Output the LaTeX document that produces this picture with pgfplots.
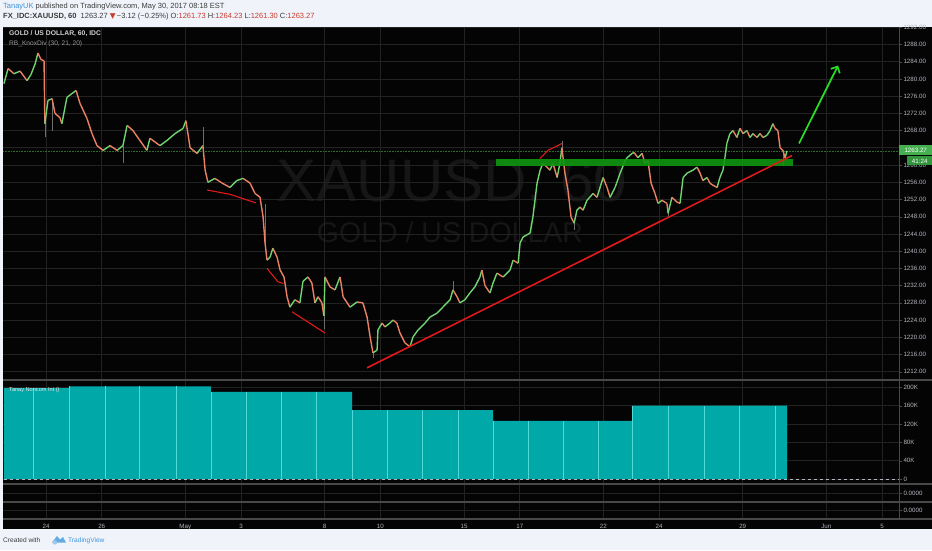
\documentclass[border=0pt]{standalone}
\usepackage{fontspec}
\setmainfont{Liberation Sans}
\newfontfamily\symfont{DejaVu Sans}
\usepackage{pgfplots}
\pgfplotsset{compat=1.18}
\usetikzlibrary{arrows.meta}

\definecolor{pagebg}{RGB}{240,243,250}
\definecolor{chartbg}{RGB}{4,4,4}
\definecolor{gridc}{RGB}{34,34,34}
\definecolor{sepc}{RGB}{72,72,72}
\definecolor{tickc}{RGB}{178,181,190}
\definecolor{teal1}{RGB}{0,168,168}
\definecolor{teal2}{RGB}{80,215,215}
\definecolor{bandc}{RGB}{16,150,16}
\definecolor{trendc}{RGB}{225,25,25}
\definecolor{arrowc}{RGB}{40,220,40}
\definecolor{boxc}{RGB}{70,175,80}
\definecolor{box2c}{RGB}{50,150,60}
\definecolor{wmc}{RGB}{22,22,22}
\definecolor{tvblue}{RGB}{60,150,220}
\definecolor{hdtext}{RGB}{60,60,60}
\definecolor{valred}{RGB}{200,60,50}
\definecolor{lastc}{RGB}{40,110,40}
\definecolor{wickc}{RGB}{110,110,110}

\pgfplotsset{
  tvpanel/.style={
    scale only axis, width=896pt, anchor=south west,
    xmin=-1.543, xmax=30.607,
    axis line style={draw=none},
    xtick={0,2,5,7,10,12,15,17,20,22,25,28,30},
    xticklabels={},
    xmajorgrids, ymajorgrids,
    grid style={gridc, line width=0.6pt},
    ytick pos=right, yticklabel pos=right,
    tick align=outside, major tick length=3pt,
    xtick style={draw=none}, ytick style={draw=sepc},
    tick label style={font=\fontsize{6.2}{7}\selectfont, color=tickc},
    yticklabel style={xshift=-2pt},
    scaled y ticks=false,
    /pgf/number format/assume math mode=true,
  }
}

\begin{document}
\begin{tikzpicture}[x=1pt,y=1pt]
% page and chart background
\fill[pagebg] (0,0) rectangle (932,550);
\fill[chartbg] (3,21) rectangle (932,523);

% header
\node[anchor=base west, inner sep=0, font=\fontsize{7.5}{8}\selectfont] at (3,541)
  {{\color{tvblue}TanayUK} {\color{hdtext}published on TradingView.com, May 30, 2017 08:18 EST}};
\node[anchor=base west, inner sep=0, font=\fontsize{7.5}{8}\selectfont, text=hdtext] at (3,531.5)
  {\textbf{FX\_IDC:XAUUSD, 60}\ \ 1263.27 {\color{valred}\symfont ▼}\,−3.12 (−0.25\%) O:{\color{valred}1261.73} H:{\color{valred}1264.23} L:{\color{valred}1261.30} C:{\color{valred}1263.27}};

% watermark
\node[text=wmc, font=\fontsize{60}{62}\selectfont] at (452,366) {XAUUSD, 60};
\node[text=wmc, font=\fontsize{28.5}{30}\selectfont] at (450,318) {GOLD / US DOLLAR};

% main price panel
\begin{axis}[tvpanel, at={(3pt,171pt)}, height=352pt,
  ymin=1210.31, ymax=1292.05,
  ytick={1212,1216,1220,1224,1228,1232,1236,1240,1244,1248,1252,1256,1260,1264,1268,1272,1276,1280,1284,1288,1292},
  yticklabels={1212.00,1216.00,1220.00,1224.00,1228.00,1232.00,1236.00,1240.00,1244.00,1248.00,1252.00,1256.00,1260.00,,1268.00,1272.00,1276.00,1280.00,1284.00,1288.00,1292.00},
]
\addplot[densely dotted, lastc, line width=0.6pt] coordinates {(-1.543,1263.27) (30.607,1263.27)};
% wicks of a few hourly bars (low to high)
\addplot[wickc, line width=0.5pt, unbounded coords=jump] coordinates {
  (-0.04,1266.5) (-0.04,1270.0) (nan,nan)
  (0.22,1268.0) (0.22,1275.4) (nan,nan)
  (2.76,1260.5) (2.76,1264.5) (nan,nan)
  (5.63,1264.5) (5.63,1268.8) (nan,nan)
  (7.86,1241.9) (7.86,1251.0) (nan,nan)
  (9.97,1222.0) (9.97,1228.0) (nan,nan)
  (11.73,1215.2) (11.73,1216.4) (nan,nan)
  (14.60,1231.0) (14.60,1233.0) (nan,nan)
  (18.51,1264.0) (18.51,1265.5) (nan,nan)
  (18.95,1244.9) (18.95,1246.5) (nan,nan)
  (22.32,1247.6) (22.32,1248.8) (nan,nan)
  (26.44,1259.8) (26.44,1263.4)};
\addplot[mesh, shader=flat corner, point meta=explicit, point meta min=0, point meta max=1,
  colormap={candle}{rgb255=(236,128,100) rgb255=(112,212,112)}, line width=1.4pt, line join=round]
  table[x=d, y=p, meta=g] {
d p g
-1.51 1278.9 1
-1.36 1282.4 0
-1.15 1281.2 1
-0.93 1281.8 0
-0.68 1279.6 1
-0.54 1281.0 1
-0.39 1283.5 1
-0.29 1286.0 0
-0.18 1284.5 0
-0.07 1284.2 0
-0.04 1269.6 1
0.07 1275.0 1
0.22 1275.4 0
0.32 1272.0 0
0.50 1271.0 0
0.57 1269.6 1
0.75 1275.7 1
0.93 1276.6 1
1.08 1277.3 0
1.22 1274.3 0
1.47 1270.8 0
1.65 1267.3 0
1.83 1264.5 0
2.05 1263.4 1
2.30 1264.5 0
2.55 1263.4 1
2.76 1264.5 1
2.91 1269.2 0
3.12 1268.0 0
3.37 1265.7 0
3.62 1263.4 1
3.73 1266.2 0
4.09 1264.5 1
4.34 1265.7 1
4.63 1267.3 1
4.92 1268.5 1
5.02 1270.3 0
5.17 1264.0 0
5.42 1262.7 1
5.63 1264.5 0
5.71 1258.8 0
5.81 1256.0 1
6.06 1256.9 0
6.32 1255.8 0
6.60 1254.8 1
6.85 1256.4 1
7.07 1256.9 0
7.32 1255.8 0
7.50 1253.4 0
7.68 1252.5 0
7.79 1247.9 0
7.86 1241.9 0
7.93 1237.9 1
8.04 1238.6 1
8.14 1240.7 0
8.29 1238.6 0
8.40 1235.6 0
8.54 1234.0 0
8.65 1229.4 0
8.75 1227.0 1
8.93 1228.7 0
9.11 1228.0 1
9.22 1233.0 1
9.40 1234.0 0
9.54 1232.6 0
9.65 1228.0 1
9.76 1229.4 0
9.90 1228.0 0
9.97 1225.0 1
10.01 1234.0 0
10.19 1231.7 0
10.37 1231.0 1
10.55 1234.0 0
10.66 1229.4 0
10.91 1227.0 1
11.16 1228.2 0
11.37 1228.0 0
11.52 1224.7 0
11.63 1220.1 0
11.73 1216.4 1
11.88 1217.0 1
11.91 1221.7 1
12.06 1223.3 0
12.16 1222.4 1
12.34 1223.3 1
12.45 1224.0 0
12.59 1223.3 0
12.70 1221.0 0
12.88 1218.7 0
13.06 1217.8 1
13.17 1220.1 1
13.35 1221.7 1
13.60 1223.3 1
13.78 1224.7 1
14.03 1225.6 1
14.24 1227.0 1
14.50 1228.7 1
14.60 1231.0 0
14.75 1229.4 0
14.85 1228.0 1
15.03 1228.7 1
15.21 1230.3 1
15.39 1231.7 1
15.57 1234.0 1
15.64 1235.6 0
15.75 1232.0 0
15.93 1230.3 1
16.04 1232.6 1
16.18 1234.9 0
16.40 1234.0 1
16.65 1235.6 1
16.76 1237.9 0
16.94 1237.2 1
17.01 1241.9 1
17.12 1243.3 1
17.37 1244.2 1
17.47 1247.9 1
17.62 1255.8 1
17.73 1258.8 1
17.83 1260.4 0
17.98 1259.5 0
18.08 1258.8 1
18.19 1260.4 0
18.34 1257.1 1
18.44 1260.4 1
18.51 1264.0 0
18.62 1258.1 0
18.73 1254.1 0
18.84 1247.9 0
18.95 1246.5 1
19.05 1249.5 1
19.16 1250.2 0
19.27 1249.5 1
19.41 1251.8 1
19.63 1253.4 0
19.77 1252.5 1
19.99 1257.1 0
20.13 1254.8 0
20.24 1252.5 1
20.42 1254.8 1
20.60 1258.1 1
20.78 1261.0 1
20.85 1261.7 1
21.03 1262.7 1
21.10 1262.9 0
21.24 1261.7 1
21.39 1262.7 0
21.49 1260.4 1
21.60 1261.0 0
21.71 1255.8 0
21.85 1253.4 0
21.96 1251.1 1
22.10 1251.8 0
22.28 1251.1 0
22.32 1248.8 1
22.46 1252.5 0
22.64 1251.4 0
22.75 1251.1 1
22.86 1257.1 1
23.00 1258.1 1
23.21 1258.8 1
23.36 1259.5 0
23.47 1258.1 0
23.57 1256.4 1
23.72 1257.1 0
23.82 1255.8 0
23.93 1255.3 0
24.08 1254.8 1
24.18 1257.1 1
24.29 1258.8 1
24.36 1261.7 1
24.43 1265.0 1
24.54 1267.3 1
24.65 1268.0 0
24.79 1266.4 1
24.90 1268.5 0
25.01 1267.3 1
25.15 1268.0 0
25.26 1266.4 1
25.37 1267.3 0
25.51 1266.4 1
25.62 1267.3 0
25.73 1266.4 1
25.87 1266.9 1
25.98 1268.0 1
26.08 1269.6 0
26.16 1268.5 0
26.26 1268.0 0
26.34 1264.0 0
26.44 1263.4 0
26.52 1261.7 1
26.59 1263.27 0
};
% resistance band
\addplot[fill=bandc, fill opacity=0.9, draw=none] coordinates
  {(16.15,1259.7) (26.80,1259.7) (26.80,1261.3) (16.15,1261.3)} -- cycle;
% rising trendline
\addplot[trendc, line width=1.6pt] coordinates {(11.52,1212.9) (26.77,1262.2)};
% divergence segments
\addplot[trendc, line width=1.1pt] coordinates {(5.78,1254.2) (6.60,1253.2) (7.53,1251.2)};
\addplot[trendc, line width=1.1pt] coordinates {(7.93,1236.0) (8.32,1232.9) (8.50,1232.5)};
\addplot[trendc, line width=1.1pt] coordinates {(8.83,1225.9) (10.01,1221.0)};
\addplot[trendc, line width=1.1pt] coordinates {(17.72,1261.5) (18.01,1263.4) (18.51,1265.0)};
% target arrow
\addplot[arrowc, line width=1.7pt, -{Straight Barb[length=5pt,width=10pt]}] coordinates {(27.02,1265.0) (28.42,1283.1)};
\end{axis}

% lower indicator panel
\begin{axis}[tvpanel, at={(3pt,66pt)}, height=103pt,
  ymin=-10.9, ymax=213.8,
  ytick={0,40,80,120,160,200}, yticklabels={0,40K,80K,120K,160K,200K},
]
\addplot[const plot, fill=teal1, draw=none] coordinates
  {(-1.51,198) (0.83,202) (5.92,190) (10.98,150) (16.04,127) (21.03,160) (26.59,160)} \closedcycle;
\addplot[ycomb, teal2, line width=0.6pt] coordinates
  {(-0.47,198) (0.83,202) (2.12,202) (3.34,202) (4.66,202) (5.92,190) (7.18,190) (8.43,190) (9.69,190)
   (10.98,150) (12.24,150) (13.49,150) (14.78,150) (16.04,127) (17.29,127) (18.55,127) (19.81,127)
   (21.03,160) (22.32,160) (23.61,160) (24.87,160) (26.16,160)};
\addplot[dashed, tickc, line width=0.6pt] coordinates {(-1.51,0) (30.607,0)};
\end{axis}

% two empty panels
\begin{axis}[tvpanel, at={(3pt,48pt)}, height=17pt, ymin=-1, ymax=1, ytick={0}, yticklabels={0.0000}]
\end{axis}
\begin{axis}[tvpanel, at={(3pt,31pt)}, height=17pt, ymin=-1, ymax=1, ytick={0}, yticklabels={0.0000},
  xticklabels={24,26,May,3,8,10,15,17,22,24,29,Jun,5},
  xticklabel style={yshift=1pt}]
\end{axis}

% separators and right scale line
\draw[sepc, line width=1.1pt] (3,170) -- (932,170);
\draw[sepc, line width=1.1pt] (3,66) -- (932,66);
\draw[sepc, line width=1.1pt] (3,48) -- (932,48);
\draw[sepc, line width=1.1pt] (3,31) -- (932,31);
\draw[sepc, line width=0.8pt] (899,31) -- (899,523);

% legends inside panes
\node[anchor=west, inner sep=0, font=\bfseries\fontsize{6.8}{8}\selectfont, text=black!18] at (9,516.7) {GOLD / US DOLLAR, 60, IDC};
\node[anchor=west, inner sep=0, font=\fontsize{6.6}{8}\selectfont, text=black!40] at (9,506.7) {RB\_KnoxDiv (30, 21, 20)};
\node[anchor=west, inner sep=0, font=\fontsize{5.6}{7}\selectfont, text=white!90!black] at (9,160) {Tanay Noncom Int ()};

% last price tags
\node[fill=boxc, text=white, inner sep=0, minimum width=33pt, minimum height=9.5pt, anchor=west,
  font=\fontsize{6.2}{7}\selectfont] at (899,400) {1263.27};
\node[fill=box2c, text=white, inner sep=0, minimum width=25pt, minimum height=9pt, anchor=west,
  font=\fontsize{6.2}{7}\selectfont] at (907,389) {41:24};

% footer
\node[anchor=base west, inner sep=0, font=\fontsize{6.6}{8}\selectfont, text=hdtext] at (3,8) {Created with};
\fill[tvblue!80] (52,7.5) -- (57,14) -- (60,10.5) -- (63,13) -- (66,7.5) -- cycle;
\fill[tvblue!50] (55,7.5) circle (2.2);
\node[anchor=base west, inner sep=0, font=\fontsize{6.6}{8}\selectfont, text=tvblue] at (68,8) {TradingView};

\pgfresetboundingbox
\useasboundingbox (0,0) rectangle (932,550);
\end{tikzpicture}
\end{document}
